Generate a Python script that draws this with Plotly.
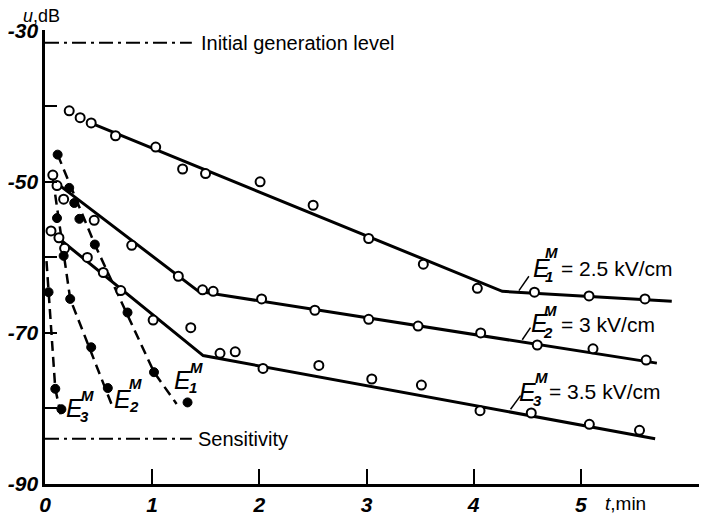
import plotly.graph_objects as go

# ---------------- data (t in min, u in dB) ----------------
# open-circle series
E1_t = [0.226, 0.328, 0.431, 0.658, 1.033, 1.284, 1.498, 2.007, 2.502, 3.020, 3.530, 4.034, 4.567, 5.076, 5.598]
E1_u = [-40.6, -41.5, -42.2, -43.9, -45.4, -48.3, -48.9, -50.0, -53.1, -57.5, -60.9, -64.1, -64.6, -65.1, -65.5]
E2_t = [0.073, 0.112, 0.174, 0.459, 0.809, 1.244, 1.470, 1.569, 2.021, 2.518, 3.020, 3.481, 4.065, 4.593, 5.113, 5.609]
E2_u = [-49.1, -50.5, -52.3, -55.1, -58.4, -62.5, -64.3, -64.5, -65.5, -67.0, -68.2, -69.1, -70.0, -71.6, -72.1, -73.6]
E3_t = [0.056, 0.130, 0.183, 0.395, 0.544, 0.707, 1.009, 1.360, 1.633, 1.775, 2.034, 2.555, 3.049, 3.512, 4.059, 4.537, 5.079, 5.547]
E3_u = [-56.5, -57.4, -58.8, -60.0, -62.0, -64.4, -68.3, -69.3, -72.7, -72.5, -74.7, -74.3, -76.1, -76.9, -80.3, -80.6, -82.1, -82.9]

# fitted solid lines (vertices)
E1_fit_t = [0.39, 4.267, 5.848]
E1_fit_u = [-42.0, -64.5, -65.8]
E2_fit_t = [0.093, 1.433, 5.709]
E2_fit_u = [-50.0, -64.5, -74.0]
E3_fit_t = [0.112, 1.476, 5.693]
E3_fit_u = [-57.3, -73.0, -84.0]

# filled-circle series (E^M)
E1M_t = [0.118, 0.226, 0.273, 0.321, 0.465, 0.770, 1.017, 1.330]
E1M_u = [-46.4, -50.8, -52.8, -54.9, -58.3, -67.3, -75.2, -79.2]
E2M_t = [0.112, 0.174, 0.235, 0.431, 0.586]
E2M_u = [-54.8, -59.8, -65.5, -71.9, -77.3]
E3M_t = [0.033, 0.096, 0.153]
E3M_u = [-64.6, -77.4, -80.1]

# dashed lines (vertices)
E1M_fit_t = [0.118, 0.465, 1.017, 1.228]
E1M_fit_u = [-46.4, -58.3, -75.2, -79.4]
E2M_fit_t = [0.074, 0.235, 0.639]
E2M_fit_u = [-49.6, -65.5, -80.1]
E3M_fit_t = [0.014, 0.033, 0.096, 0.158]
E3M_fit_u = [-60.5, -64.6, -77.4, -81.5]

# reference levels
level_t = [0.0, 1.37]
initial_level = -31.6
sensitivity = -84.0

x_ticks = [0, 1, 2, 3, 4, 5]
y_ticks = [-90, -80, -70, -60, -50, -40, -30]
y_ticktext = ["-90", "", "-70", "", "-50", "", "-30"]

# ---------------- figure ----------------
BLACK = "black"
TEXT_FONT = dict(family="Liberation Sans, Arial, sans-serif", size=20, color=BLACK)
TICK_FONT = dict(family="Liberation Sans Narrow, Liberation Sans, sans-serif", size=21,
                 color=BLACK, style="italic", weight="bold")
E_FONT = dict(family="Liberation Sans Narrow, Liberation Sans, sans-serif", size=25,
              color=BLACK, style="italic")
SMALL_FONT = dict(family="Liberation Sans Narrow, Liberation Sans, sans-serif", size=15,
                  color=BLACK, style="italic", weight="bold")

fig = go.Figure()

# dash-dot reference lines
for lv in (initial_level, sensitivity):
    fig.add_trace(go.Scatter(x=level_t, y=[lv, lv], mode="lines",
                             line=dict(color=BLACK, width=2, dash="14px,5px,3px,5px"),
                             showlegend=False, hoverinfo="skip"))

# solid fitted lines
for ft, fu in ((E1_fit_t, E1_fit_u), (E2_fit_t, E2_fit_u), (E3_fit_t, E3_fit_u)):
    fig.add_trace(go.Scatter(x=ft, y=fu, mode="lines",
                             line=dict(color=BLACK, width=3),
                             showlegend=False, hoverinfo="skip"))

# dashed lines
for ft, fu in ((E1M_fit_t, E1M_fit_u), (E2M_fit_t, E2M_fit_u), (E3M_fit_t, E3M_fit_u)):
    fig.add_trace(go.Scatter(x=ft, y=fu, mode="lines",
                             line=dict(color=BLACK, width=2.5, dash="10px,6px"),
                             showlegend=False, hoverinfo="skip"))

# open circles
for tt, uu in ((E1_t, E1_u), (E2_t, E2_u), (E3_t, E3_u)):
    fig.add_trace(go.Scatter(x=tt, y=uu, mode="markers",
                             marker=dict(symbol="circle", size=9, color="white",
                                         line=dict(color=BLACK, width=2)),
                             showlegend=False, cliponaxis=False))

# filled circles
for tt, uu in ((E1M_t, E1M_u), (E2M_t, E2M_u), (E3M_t, E3M_u)):
    fig.add_trace(go.Scatter(x=tt, y=uu, mode="markers",
                             marker=dict(symbol="circle", size=9, color=BLACK,
                                         line=dict(color=BLACK, width=1)),
                             showlegend=False, cliponaxis=False))

annotations = []


def e_label(x, y, sub, sub_dx, sub_dy, m_dx, m_dy):
    annotations.append(dict(x=x, y=y, xref="x", yref="y", text="E", showarrow=False,
                            font=E_FONT, xanchor="center", yanchor="middle"))
    annotations.append(dict(x=x, y=y, xref="x", yref="y", text=sub, showarrow=False,
                            font=SMALL_FONT, xanchor="center", yanchor="middle",
                            xshift=sub_dx, yshift=sub_dy))
    annotations.append(dict(x=x, y=y, xref="x", yref="y", text="M", showarrow=False,
                            font=SMALL_FONT, xanchor="center", yanchor="middle",
                            xshift=m_dx, yshift=m_dy))


# labels near dashed curves
e_label(1.284, -76.2, "1", 10, -8, 14, 12)
e_label(0.726, -78.7, "2", 11, -8, 13, 15)
e_label(0.279, -79.9, "3", 10, -9, 13, 12)
# labels at right
e_label(4.633, -61.4, "1", 7, -9, 10, 15)
e_label(4.614, -68.7, "2", 8, -9, 11, 13)
e_label(4.502, -77.8, "3", 10, -9, 14, 14)

annotations += [
    dict(x=4.80, y=-61.5, xref="x", yref="y", text="= 2.5 kV/cm", showarrow=False,
         font=dict(TEXT_FONT, size=21), xanchor="left", yanchor="middle"),
    dict(x=4.80, y=-68.9, xref="x", yref="y", text="= 3 kV/cm", showarrow=False,
         font=dict(TEXT_FONT, size=21), xanchor="left", yanchor="middle"),
    dict(x=4.68, y=-77.8, xref="x", yref="y", text="= 3.5 kV/cm", showarrow=False,
         font=dict(TEXT_FONT, size=21), xanchor="left", yanchor="middle"),
    dict(x=1.44, y=initial_level, xref="x", yref="y", text="Initial generation level",
         showarrow=False, font=TEXT_FONT, xanchor="left", yanchor="middle"),
    dict(x=1.41, y=sensitivity, xref="x", yref="y", text="Sensitivity",
         showarrow=False, font=TEXT_FONT, xanchor="left", yanchor="middle"),
    dict(x=0.8765, y=-0.044, xref="paper", yref="paper", text="<i>t</i>,min",
         showarrow=False, font=dict(TEXT_FONT, size=19), xanchor="center", yanchor="middle"),
    dict(x=-0.006, y=1.031, xref="paper", yref="paper", text="<i>u</i>,dB",
         showarrow=False, font=dict(TEXT_FONT, size=18), xanchor="center", yanchor="middle"),
]

# leader strokes from curves to right labels
shapes = []
for (x0, y0, x1, y1) in ((4.422, -64.4, 4.515, -62.5),
                         (4.453, -70.9, 4.530, -69.3),
                         (4.344, -80.1, 4.437, -78.3)):
    shapes.append(dict(type="line", xref="x", yref="y", x0=x0, y0=y0, x1=x1, y1=y1,
                       line=dict(color=BLACK, width=1.5)))

# the page body has an 8px default margin, so the figure is made 8px smaller
fig.update_layout(
    width=699, height=508,
    margin=dict(l=35, r=0, t=22, b=31),
    paper_bgcolor="white", plot_bgcolor="white",
    showlegend=False,
    annotations=annotations,
    shapes=shapes,
    xaxis=dict(range=[0, 664 / 107.5], tickvals=x_ticks, ticktext=[str(v) for v in x_ticks],
               showline=True, linecolor=BLACK, linewidth=2.5, ticks="inside",
               ticklen=15, tickwidth=2, tickcolor=BLACK, showgrid=False, zeroline=False,
               tickfont=TICK_FONT),
    yaxis=dict(range=[-90, -29.9], tickvals=y_ticks, ticktext=y_ticktext,
               showline=True, linecolor=BLACK, linewidth=2.5, ticks="inside",
               ticklen=12, tickwidth=2, tickcolor=BLACK, showgrid=False, zeroline=False,
               tickfont=TICK_FONT),
)

fig.write_html("out.html")
